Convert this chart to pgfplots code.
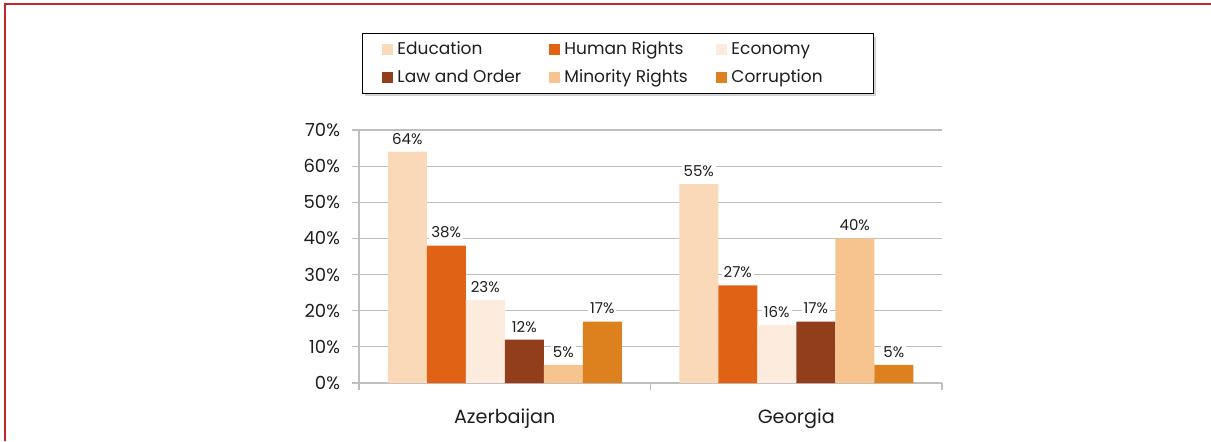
\documentclass[border=0pt]{standalone}
\usepackage{fontspec}
\setmainfont{Poppins}
\usepackage{pgfplots}
\pgfplotsset{compat=1.18}
\usetikzlibrary{shadows}
\definecolor{cEdu}{RGB}{250,217,185}
\definecolor{cHR}{RGB}{224,98,20}
\definecolor{cEco}{RGB}{253,236,222}
\definecolor{cLaw}{RGB}{147,62,27}
\definecolor{cMin}{RGB}{247,196,144}
\definecolor{cCor}{RGB}{221,128,30}
\definecolor{gridgray}{RGB}{190,190,190}
\definecolor{framered}{RGB}{192,38,44}
\definecolor{textc}{RGB}{30,30,30}
\pgfplotsset{
  my legend/.style={legend image code/.code={\pgfsetfillcolor{#1}\pgfpathrectangle{\pgfpoint{0pt}{-2.75pt}}{\pgfpoint{5.5pt}{5.5pt}}\pgfusepath{fill}}},
}
\begin{document}
\begin{tikzpicture}
\draw[framered, line width=0.8pt] (2.5pt,0pt) -- (2.5pt,218.5pt) -- (605.5pt,218.5pt);
\begin{axis}[
  at={(179.5pt,29pt)}, anchor=south west,
  width=291.5pt, height=126.5pt, scale only axis,
  ybar=0pt, bar width=19.5pt,
  xmin=-0.5, xmax=1.5, ymin=0, ymax=70,
  axis x line*=bottom, axis y line*=left,
  axis line style={draw=gridgray, line width=0.6pt},
  xtick={-0.5,0.5,1.5}, xticklabels={},
  extra x ticks={0,1}, extra x tick labels={Azerbaijan,Georgia},
  extra x tick style={major tick length=0pt},
  ytick={0,10,...,70},
  yticklabel={\pgfmathprintnumber{\tick}\%},
  tick align=outside, major tick length=3.5pt,
  tick style={draw=gridgray, line width=0.6pt},
  ymajorgrids, grid style={draw=gridgray, line width=0.6pt},
  /pgf/number format/assume math mode=true,
  ticklabel style={font=\fontsize{9}{10}\selectfont, text=textc},
  yticklabel style={xshift=-2.5pt},
  xticklabel style={yshift=-9.5pt, font=\fontsize{9.6}{10}\selectfont},
  nodes near coords={\pgfmathprintnumber{\pgfplotspointmeta}\%},
  nodes near coords style={font=\fontsize{7.5}{9}\selectfont, text=textc, fill=white, inner sep=1pt, anchor=south, yshift=2.5pt},
  legend columns=3,
  legend style={at={(0.0051,1.383)}, anchor=north west, draw=black, line width=0.5pt, fill=white,
    drop shadow={shadow xshift=1.5pt, shadow yshift=-1.5pt, opacity=0.35},
    font=\fontsize{8.5}{9.5}\selectfont, text=textc, inner xsep=10pt, inner ysep=2pt, row sep=2pt},
  legend cell align=left,
]
\addplot[fill=cEdu, draw=none, my legend=cEdu] coordinates {(0,64) (1,55)};
\addplot[fill=cHR, draw=none, my legend=cHR] coordinates {(0,38) (1,27)};
\addplot[fill=cEco, draw=none, my legend=cEco] coordinates {(0,23) (1,16)};
\addplot[fill=cLaw, draw=none, my legend=cLaw] coordinates {(0,12) (1,17)};
\addplot[fill=cMin, draw=none, my legend=cMin] coordinates {(0,5) (1,40)};
\addplot[fill=cCor, draw=none, my legend=cCor] coordinates {(0,17) (1,5)};
\legend{\makebox[74pt][l]{Education},\makebox[74pt][l]{Human Rights},\makebox[59pt][l]{Economy},\makebox[74pt][l]{Law and Order},\makebox[74pt][l]{Minority Rights},\makebox[59pt][l]{Corruption}}
\end{axis}
\pgfresetboundingbox
\useasboundingbox (0,0) rectangle (605.5pt,220.5pt);
\end{tikzpicture}
\end{document}
